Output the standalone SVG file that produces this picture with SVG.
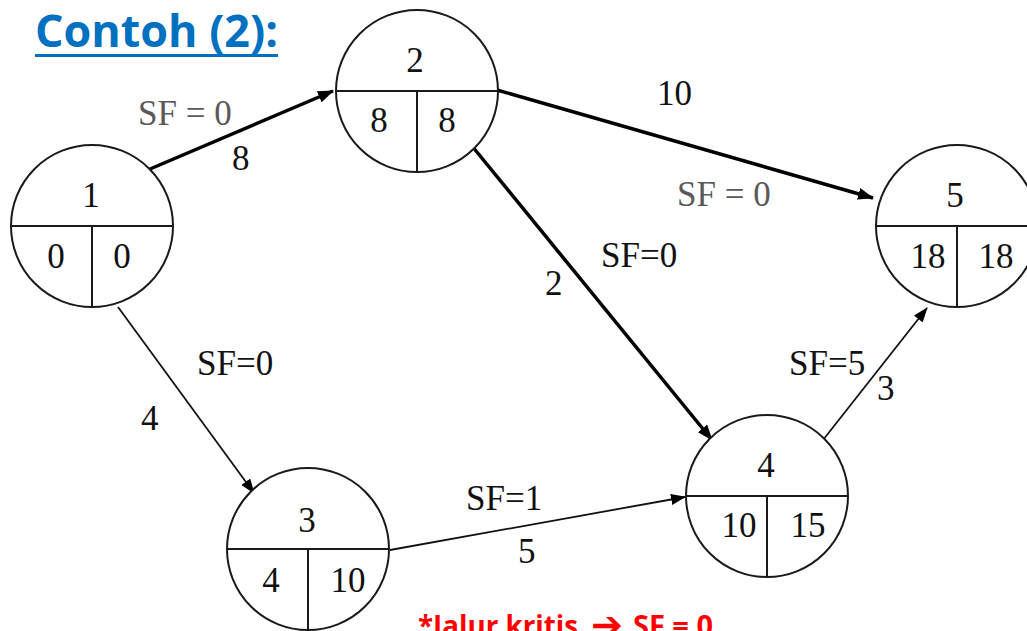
<svg xmlns="http://www.w3.org/2000/svg" width="1027" height="631" viewBox="0 0 1027 631">
<style>
.node circle{fill:#fff;stroke:#1a1a1a;stroke-width:2}
.node line{stroke:#1a1a1a;stroke-width:2}
.num{font-family:"Liberation Serif","Times New Roman",serif;font-size:35px;fill:#111;text-anchor:middle}
.lbl{font-family:"Liberation Serif","Times New Roman",serif;font-size:35px;fill:#111}
.gray{fill:#595959}
.thick{stroke:#000;stroke-width:3.5;fill:none}
.thin{stroke:#111;stroke-width:1.8;fill:none}
.note{font-family:"Open Sans","Liberation Sans",sans-serif;font-weight:bold;font-size:28px;fill:#FF0000}
</style>
<defs>
<marker id="ah" viewBox="0 0 16 12" refX="15" refY="6" markerWidth="16" markerHeight="12" markerUnits="userSpaceOnUse" orient="auto">
<path d="M0,0 L16,6 L0,12 z" fill="#000"/>
</marker>
<marker id="ahs" viewBox="0 0 15 11" refX="14" refY="5.5" markerWidth="15" markerHeight="11" markerUnits="userSpaceOnUse" orient="auto">
<path d="M0,0 L15,5.5 L0,11 z" fill="#000"/>
</marker>
</defs>
<rect width="1027" height="631" fill="#fff"/>
<g id="title">
<text x="35" y="47" font-family="'Open Sans','Liberation Sans',sans-serif" font-weight="bold" font-size="44" fill="#0070C0" textLength="243" lengthAdjust="spacingAndGlyphs">Contoh (2):</text>
<rect x="35" y="54" width="243" height="3" fill="#0070C0"/>
</g>
<g id="connectors">
<line class="thick" x1="150" y1="169" x2="333" y2="91" marker-end="url(#ah)"/>
<line class="thick" x1="497" y1="90" x2="873" y2="198" marker-end="url(#ah)"/>
<line class="thick" x1="472" y1="146" x2="712" y2="440" marker-end="url(#ah)"/>
<line class="thin" x1="118" y1="307" x2="254" y2="493" marker-end="url(#ahs)"/>
<line class="thin" x1="390" y1="550" x2="685" y2="497" marker-end="url(#ahs)"/>
<line class="thin" x1="823" y1="440" x2="927" y2="308" marker-end="url(#ahs)"/>
<text class="lbl gray" x="138" y="125">SF = 0</text>
<text class="lbl" x="232" y="170">8</text>
<text class="lbl" x="657" y="105">10</text>
<text class="lbl gray" x="677" y="206">SF = 0</text>
<text class="lbl" x="601" y="267">SF=0</text>
<text class="lbl" x="545" y="295">2</text>
<text class="lbl" x="197" y="375">SF=0</text>
<text class="lbl" x="141" y="430">4</text>
<text class="lbl" x="466" y="510">SF=1</text>
<text class="lbl" x="518" y="563">5</text>
<text class="lbl" x="789" y="375">SF=5</text>
<text class="lbl" x="877" y="400">3</text>
</g>
<g id="node1" class="node">
<circle cx="92" cy="226" r="81"/>
<line x1="11" y1="226" x2="173" y2="226"/>
<line x1="92" y1="226" x2="92" y2="307"/>
<text class="num" x="91" y="207">1</text>
<text class="num" x="56" y="268">0</text>
<text class="num" x="122" y="268">0</text>
</g>
<g id="node2" class="node">
<circle cx="417" cy="91" r="81"/>
<line x1="336" y1="91" x2="498" y2="91"/>
<line x1="417" y1="91" x2="417" y2="172"/>
<text class="num" x="415" y="72">2</text>
<text class="num" x="379" y="132">8</text>
<text class="num" x="447" y="132">8</text>
</g>
<g id="node5" class="node">
<circle cx="957" cy="226" r="81"/>
<line x1="876" y1="226" x2="1038" y2="226"/>
<line x1="957" y1="226" x2="957" y2="307"/>
<text class="num" x="955" y="207">5</text>
<text class="num" x="928" y="268">18</text>
<text class="num" x="996" y="268">18</text>
</g>
<g id="node4" class="node">
<circle cx="767" cy="496" r="81"/>
<line x1="686" y1="496" x2="848" y2="496"/>
<line x1="767" y1="496" x2="767" y2="577"/>
<text class="num" x="766" y="477">4</text>
<text class="num" x="739" y="537">10</text>
<text class="num" x="808" y="537">15</text>
</g>
<g id="node3" class="node">
<circle cx="308" cy="549" r="81"/>
<line x1="227" y1="549" x2="389" y2="549"/>
<line x1="308" y1="549" x2="308" y2="630"/>
<text class="num" x="307" y="532">3</text>
<text class="num" x="271" y="592">4</text>
<text class="num" x="348" y="592">10</text>
</g>
<g id="note">
<text class="note" x="418" y="636" textLength="160" lengthAdjust="spacingAndGlyphs">*Jalur kritis</text>
<text x="591" y="638" font-family="'DejaVu Sans',sans-serif" font-weight="bold" font-size="38" fill="#FF0000" textLength="32" lengthAdjust="spacingAndGlyphs">➔</text>
<text class="note" x="633" y="636" textLength="80" lengthAdjust="spacingAndGlyphs">SF = 0</text>
</g>
</svg>
